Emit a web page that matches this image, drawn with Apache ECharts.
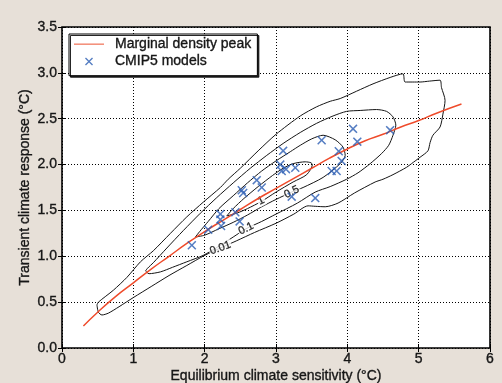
<!DOCTYPE html>
<html>
<head>
<meta charset="utf-8">
<script src="https://cdn.jsdelivr.net/npm/echarts@6/dist/echarts.min.js"></script>
<style>
html,body{margin:0;padding:0;background:#e7e0d8;}
#c{width:502px;height:383px;}
</style>
</head>
<body>
<div id="c"></div>
<script>
// Axis ticks
const xTickLabels = ['0','1','2','3','4','5','6'];
const yTickLabels = ['0.0','0.5','1.0','1.5','2.0','2.5','3.0','3.5'];

// Marginal density peak curve
const peakX = [0.3,0.5,0.75,1.0,1.25,1.5,1.75,2.0,2.25,2.5,2.75,3.0,3.25,3.5,3.75,4.0,4.25,4.5,4.75,5.0,5.25,5.6];
const peakY = [0.24,0.39,0.56,0.71,0.86,1.00,1.14,1.27,1.39,1.51,1.63,1.74,1.85,1.96,2.07,2.17,2.26,2.33,2.41,2.48,2.56,2.66];

// CMIP5 models (ECS, TCR)
const modelECS = [1.82,2.05,2.22,2.22,2.23,2.43,2.49,2.52,2.54,2.73,2.80,3.06,3.10,3.08,3.14,3.27,3.22,3.55,3.64,3.78,3.85,3.88,3.92,4.08,4.14,4.60];
const modelTCR = [1.12,1.29,1.46,1.40,1.33,1.48,1.38,1.72,1.69,1.83,1.75,2.00,2.15,1.93,1.95,1.965,1.65,1.635,2.265,1.93,1.93,2.145,2.04,2.39,2.25,2.375];

// Contours of joint density
const contour001 = [[0.49,0.47],[0.51,0.39],[0.56,0.36],[0.65,0.38],[0.80,0.45],[1.0,0.55],[1.25,0.67],[1.5,0.79],[1.75,0.90],[2.0,1.01],[2.22,1.09],[2.45,1.17],[2.7,1.26],[3.0,1.36],[3.25,1.46],[3.45,1.55],[3.55,1.545],[3.69,1.54],[3.87,1.58],[4.1,1.69],[4.39,1.81],[4.5,1.84],[4.64,1.89],[4.83,1.97],[4.90,2.01],[5.02,2.08],[5.13,2.15],[5.16,2.24],[5.20,2.32],[5.30,2.41],[5.34,2.55],[5.37,2.70],[5.32,2.84],[5.30,2.92],[5.15,2.91],[5.02,2.90],[4.81,2.90],[4.78,2.99],[4.60,2.95],[4.36,2.88],[4.13,2.80],[3.90,2.72],[3.76,2.69],[3.57,2.63],[3.34,2.53],[3.0,2.33],[2.75,2.15],[2.5,1.96],[2.33,1.84],[2.22,1.75],[1.98,1.59],[1.75,1.43],[1.52,1.25],[1.28,1.06],[1.10,0.94],[0.91,0.77],[0.72,0.63],[0.51,0.50],[0.49,0.47]];
const contour01 = [[1.17,0.84],[1.22,0.81],[1.38,0.83],[1.55,0.88],[1.75,0.94],[1.98,1.01],[2.2,1.11],[2.4,1.21],[2.58,1.30],[2.8,1.38],[3.0,1.46],[3.3,1.58],[3.55,1.70],[3.76,1.76],[3.99,1.84],[4.15,1.91],[4.32,2.01],[4.48,2.12],[4.58,2.21],[4.64,2.32],[4.68,2.43],[4.64,2.52],[4.55,2.58],[4.41,2.60],[4.18,2.59],[3.99,2.58],[3.8,2.53],[3.57,2.45],[3.34,2.35],[3.10,2.23],[2.87,2.10],[2.64,1.96],[2.40,1.80],[2.17,1.64],[1.94,1.47],[1.70,1.28],[1.47,1.09],[1.28,0.93],[1.20,0.87],[1.17,0.84]];
const contour05 = [[1.87,1.21],[2.0,1.23],[2.2,1.30],[2.4,1.37],[2.6,1.45],[2.8,1.54],[3.0,1.62],[3.22,1.70],[3.38,1.75],[3.66,1.86],[3.90,2.01],[3.97,2.10],[3.94,2.19],[3.83,2.27],[3.66,2.32],[3.50,2.28],[3.34,2.21],[3.2,2.14],[3.0,2.04],[2.8,1.93],[2.6,1.80],[2.4,1.66],[2.2,1.52],[2.05,1.38],[1.93,1.27],[1.87,1.21]];
const contour1 = [[2.31,1.44],[2.45,1.47],[2.6,1.52],[2.80,1.60],[3.0,1.70],[3.24,1.81],[3.43,1.89],[3.51,2.0],[3.49,2.02],[3.41,2.03],[3.24,2.01],[3.1,1.96],[2.95,1.88],[2.75,1.76],[2.55,1.63],[2.40,1.52],[2.31,1.44]];

// Contour level labels
const contourLabelText = ['0.01','0.1','1','0.5'];
const contourLabelX = [2.22,2.58,2.79,3.22];
const contourLabelY = [1.09,1.30,1.605,1.70];

const labelRot = [20,26,28,27];
const FONT = 'Liberation Sans, Arial, Helvetica, sans-serif';
const TXT = '#161616';
const xSymbol = 'path://M1.2,0 L5,3.8 L8.8,0 L10,1.2 L6.2,5 L10,8.8 L8.8,10 L5,6.2 L1.2,10 L0,8.8 L3.8,5 L0,1.2 Z';
const heavy = {textBorderColor:TXT, textBorderWidth:0.35};

const chart = echarts.init(document.getElementById('c'), null, {renderer:'canvas'});

function contourSeries(d){
  return {type:'line', data:d, symbol:'none', smooth:0.25, silent:true, z:2,
    lineStyle:{color:'#151515', width:1}};
}

const option = {
  animation:false,
  backgroundColor:'#e7e0d8',
  grid:{left:62, right:12, top:27, bottom:35, containLabel:false, outerBoundsMode:'none',
    show:true, backgroundColor:'#fff', borderColor:'#000', borderWidth:1.6},
  legend:{
    data:[
      {name:'Marginal density peak', icon:'path://M0,0 L30,0 L30,1.4 L0,1.4 Z', itemStyle:{color:'#f2836b'}},
      {name:'CMIP5 models'}
    ],
    orient:'vertical', left:69, top:34,
    padding:[3,6,7,5], itemGap:3, itemWidth:30, itemHeight:8,
    backgroundColor:'#fff', borderColor:'#000', borderWidth:1,
    shadowColor:'rgba(0,0,0,0.85)', shadowBlur:0, shadowOffsetX:1.5, shadowOffsetY:1.5,
    textStyle:Object.assign({fontFamily:FONT, fontSize:14, color:TXT, lineHeight:14, padding:[0,0,0,6]}, heavy)
  },
  xAxis:[{
    type:'value', min:0, max:6, interval:1, position:'bottom',
    name:'Equilibrium climate sensitivity (°C)', nameLocation:'middle', nameGap:21, nameMoveOverlap:false,
    nameTextStyle:Object.assign({fontFamily:FONT, fontSize:14, color:TXT}, heavy),
    axisLine:{show:false},
    axisTick:{show:true, inside:true, length:4, lineStyle:{color:'#000'}},
    axisLabel:Object.assign({margin:4, fontFamily:FONT, fontSize:14, color:TXT, formatter:(v)=>xTickLabels[Math.round(v)]}, heavy),
    splitLine:{show:true, lineStyle:{color:'#000', width:1, type:[1,2]}}
  },{
    type:'value', min:0, max:6, interval:1, position:'top',
    axisLine:{show:false}, axisLabel:{show:false}, splitLine:{show:false},
    axisTick:{show:true, inside:true, length:4, lineStyle:{color:'#000'}}
  }],
  yAxis:[{
    type:'value', min:0, max:3.5, interval:0.5, position:'left',
    name:'Transient climate response (°C)', nameLocation:'middle', nameGap:30, nameRotate:90, nameMoveOverlap:false,
    nameTextStyle:Object.assign({fontFamily:FONT, fontSize:14, color:TXT}, heavy),
    axisLine:{show:false},
    axisTick:{show:true, inside:true, length:4, lineStyle:{color:'#000'}},
    axisLabel:Object.assign({margin:5, fontFamily:FONT, fontSize:14, color:TXT, formatter:(v)=>yTickLabels[Math.round(v*2)]}, heavy),
    splitLine:{show:true, lineStyle:{color:'#000', width:1, type:[1,2]}}
  },{
    type:'value', min:0, max:3.5, interval:0.5, position:'right',
    axisLine:{show:false}, axisLabel:{show:false}, splitLine:{show:false},
    axisTick:{show:true, inside:true, length:4, lineStyle:{color:'#000'}}
  }],
  series:[
    contourSeries(contour001),
    contourSeries(contour01),
    contourSeries(contour05),
    contourSeries(contour1),
    {
      type:'scatter', silent:true, z:3, symbolSize:1,
      itemStyle:{color:'rgba(0,0,0,0)'},
      data:contourLabelText.map((t,i)=>({value:[contourLabelX[i],contourLabelY[i]], name:t, label:{rotate:labelRot[i]}})),
      label:{show:true, position:'inside', formatter:'{b}', fontFamily:FONT, fontSize:11, color:'#000',
        textBorderColor:'#000', textBorderWidth:0.3, backgroundColor:'#fff', padding:[0,1]}
    },
    {
      name:'Marginal density peak', type:'line', symbol:'none', smooth:true, z:4,
      data:peakX.map((x,i)=>[x,peakY[i]]),
      lineStyle:{color:'#ef4b2b', width:1.5}, itemStyle:{color:'#ef4b2b'}
    },
    {
      name:'CMIP5 models', type:'scatter', symbol:xSymbol, symbolSize:9, z:5,
      data:modelECS.map((x,i)=>[x,modelTCR[i]]),
      itemStyle:{color:'#2a5db3'}
    }
  ]
};
chart.setOption(option);
</script>
</body>
</html>
